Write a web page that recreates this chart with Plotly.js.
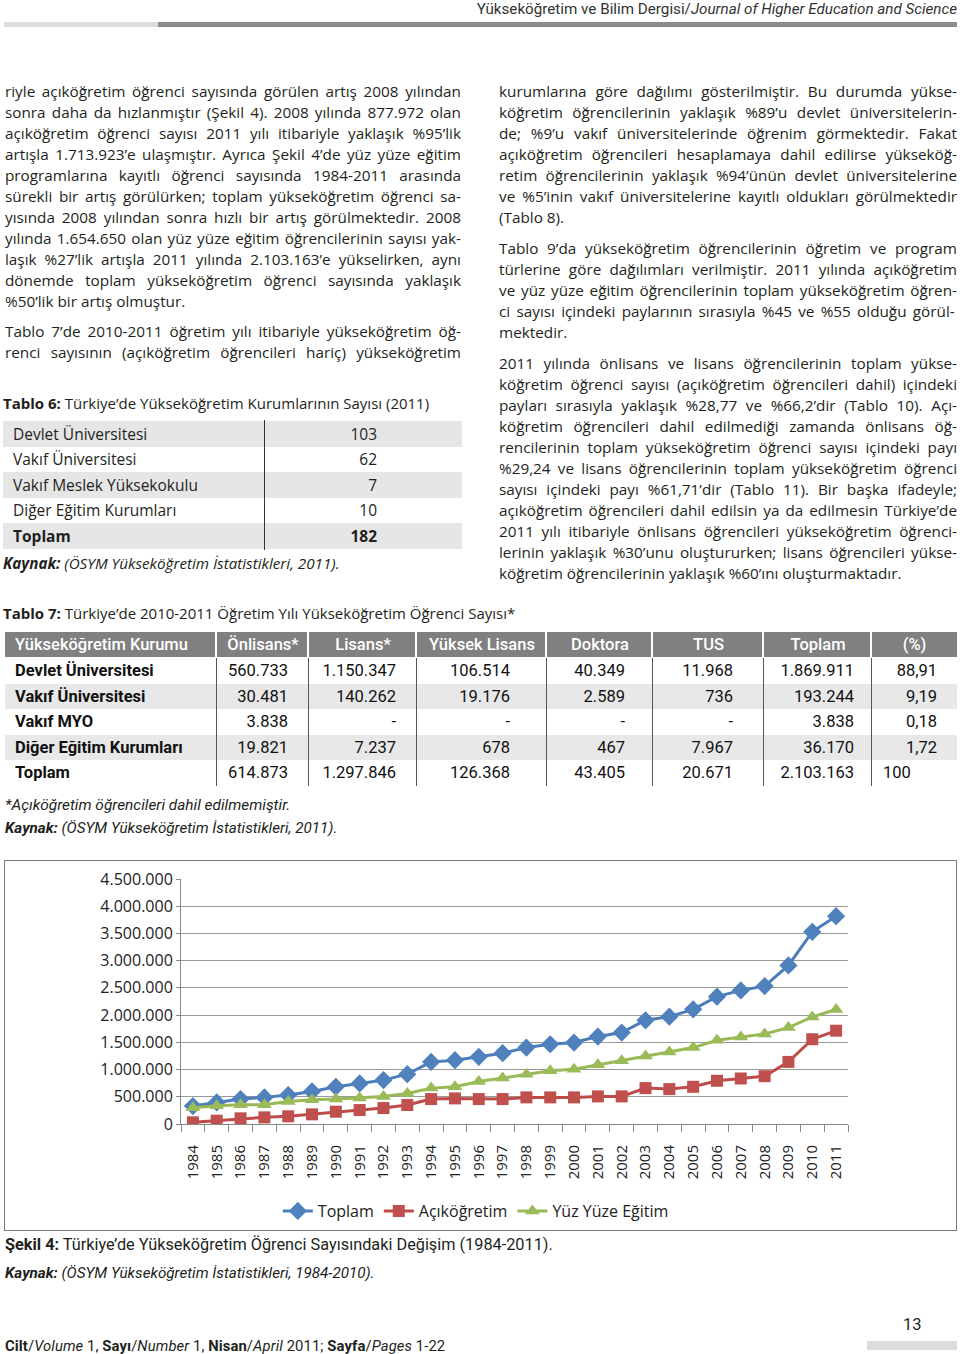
<!DOCTYPE html>
<html><head><meta charset="utf-8">
<script src="https://cdn.plot.ly/plotly-3.0.1.min.js"></script>
<style>
body{margin:0;background:#fff;}
#page{position:relative;width:960px;height:1354px;overflow:hidden;font-family:"Open Sans",sans-serif;color:#231f20;background:#fff;}
.abs{position:absolute;white-space:nowrap;}
.ln{position:absolute;height:21px;line-height:21px;font-size:15.3px;white-space:nowrap;}
.cond{font-family:Roboto,"Open Sans",sans-serif;}
.bar{position:absolute;}
</style></head>
<body><div id="page"></div>
<script>
// ---------- chart data ----------
const years = ['1984','1985','1986','1987','1988','1989','1990','1991','1992','1993','1994','1995','1996','1997','1998','1999','2000','2001','2002','2003','2004','2005','2006','2007','2008','2009','2010','2011'];
const toplam = [330000,397000,458000,489000,531000,598000,683000,745000,806000,916000,1141000,1172000,1233000,1300000,1404000,1465000,1496000,1606000,1679000,1905000,1972000,2106000,2339000,2454000,2532622,2912000,3529000,3817086];
const acikogretim = [31000,61000,104000,122000,141000,177000,226000,256000,293000,348000,458000,470000,458000,458000,489000,489000,489000,507000,507000,659000,641000,683000,794000,836000,877972,1141000,1557000,1713923];
const yuzYuze = [300000,335000,354000,354000,415000,446000,458000,476000,507000,562000,659000,683000,782000,843000,916000,977000,1007000,1086000,1160000,1251000,1324000,1404000,1538000,1599000,1654650,1771000,1966000,2103163];
const seriesNames = ['Toplam','Açıköğretim','Yüz Yüze Eğitim'];

// ---------- table data ----------
const t6Labels = ['Devlet Üniversitesi','Vakıf Üniversitesi','Vakıf Meslek Yüksekokulu','Diğer Eğitim Kurumları','Toplam'];
const t6Values = ['103','62','7','10','182'];
const t7Header = ['Yükseköğretim Kurumu','Önlisans*','Lisans*','Yüksek Lisans','Doktora','TUS','Toplam','(%)'];
const t7Rows = [
 ['Devlet Üniversitesi','560.733','1.150.347','106.514','40.349','11.968','1.869.911','88,91'],
 ['Vakıf Üniversitesi','30.481','140.262','19.176','2.589','736','193.244','9,19'],
 ['Vakıf MYO','3.838','-','-','-','-','3.838','0,18'],
 ['Diğer Eğitim Kurumları','19.821','7.237','678','467','7.967','36.170','1,72'],
 ['Toplam','614.873','1.297.846','126.368','43.405','20.671','2.103.163','100']
];

// ---------- text ----------
const leftP1 = [
 'riyle açıköğretim öğrenci sayısında görülen artış 2008 yılından',
 'sonra daha da hızlanmıştır (Şekil 4). 2008 yılında 877.972 olan',
 'açıköğretim öğrenci sayısı 2011 yılı itibariyle yaklaşık %95’lik',
 'artışla 1.713.923’e ulaşmıştır. Ayrıca Şekil 4’de yüz yüze eğitim',
 'programlarına kayıtlı öğrenci sayısında 1984-2011 arasında',
 'sürekli bir artış görülürken; toplam yükseköğretim öğrenci sa-',
 'yısında 2008 yılından sonra hızlı bir artış görülmektedir. 2008',
 'yılında 1.654.650 olan yüz yüze eğitim öğrencilerinin sayısı yak-',
 'laşık %27’lik artışla 2011 yılında 2.103.163’e yükselirken, aynı',
 'dönemde toplam yükseköğretim öğrenci sayısında yaklaşık',
 '%50’lik bir artış olmuştur.'];
const leftP2 = [
 'Tablo 7’de 2010-2011 öğretim yılı itibariyle yükseköğretim öğ-',
 'renci sayısının (açıköğretim öğrencileri hariç) yükseköğretim'];
const rightP1 = [
 'kurumlarına göre dağılımı gösterilmiştir. Bu durumda yükse-',
 'köğretim öğrencilerinin yaklaşık %89’u devlet üniversitelerin-',
 'de; %9’u vakıf üniversitelerinde öğrenim görmektedir. Fakat',
 'açıköğretim öğrencileri hesaplamaya dahil edilirse yükseköğ-',
 'retim öğrencilerinin yaklaşık %94’ünün devlet üniversitelerine',
 've %5’inin vakıf üniversitelerine kayıtlı oldukları görülmektedir',
 '(Tablo 8).'];
const rightP2 = [
 'Tablo 9’da yükseköğretim öğrencilerinin öğretim ve program',
 'türlerine göre dağılımları verilmiştir. 2011 yılında açıköğretim',
 've yüz yüze eğitim öğrencilerinin toplam yükseköğretim öğren-',
 'ci sayısı içindeki paylarının sırasıyla  %45 ve %55 olduğu görül-',
 'mektedir.'];
const rightP3 = [
 '2011 yılında önlisans ve lisans öğrencilerinin toplam yükse-',
 'köğretim öğrenci sayısı (açıköğretim öğrencileri dahil) içindeki',
 'payları sırasıyla yaklaşık %28,77 ve %66,2’dir (Tablo 10). Açı-',
 'köğretim öğrencileri dahil edilmediği zamanda önlisans öğ-',
 'rencilerinin toplam yükseköğretim öğrenci sayısı içindeki payı',
 '%29,24 ve lisans öğrencilerinin toplam yükseköğretim öğrenci',
 'sayısı içindeki payı %61,71’dir (Tablo 11). Bir başka ifadeyle;',
 'açıköğretim öğrencileri dahil edilsin ya da edilmesin Türkiye’de',
 '2011 yılı itibariyle önlisans öğrencileri yükseköğretim öğrenci-',
 'lerinin yaklaşık %30’unu oluştururken; lisans öğrencileri yükse-',
 'köğretim öğrencilerinin yaklaşık %60’ını oluşturmaktadır.'];

const page = document.getElementById('page');
function el(tag, css, html, cls){const e=document.createElement(tag); if(cls) e.className=cls; e.style.cssText=css; if(html!=null) e.innerHTML=html; page.appendChild(e); return e;}

const justifyQueue=[];
function para(lines, x, y0, width, lastJustified){
  lines.forEach((t,i)=>{
    const d = el('div', `left:${x}px;top:${y0-10.5+21*i}px;width:${width}px;`, null, 'ln');
    const s = document.createElement('span'); s.textContent=t; d.appendChild(s);
    justifyQueue.push({s, width, last: i===lines.length-1 && !lastJustified});
  });
}
para(leftP1, 5, 91, 456);
para(leftP2, 5, 331, 456, true);
para(rightP1, 499, 91, 458);
para(rightP2, 499, 248, 458);
para(rightP3, 499, 363, 458);

// header
el('div','right:3px;top:0px;font-size:15.2px;line-height:18px;color:#333;','Yükseköğretim ve Bilim Dergisi/<i>Journal of Higher Education and Science</i>','abs cond');
el('div','left:4px;top:22px;width:154px;height:5px;background:#dcdcdc;',null,'bar');
el('div','left:158px;top:22px;width:799px;height:5px;background:#8c8c8c;',null,'bar');

// table 6
el('div','left:3px;top:393px;font-size:15px;line-height:20px;','<b>Tablo 6:</b> Türkiye’de Yükseköğretim Kurumlarının Sayısı (2011)','abs');
const t6Top=[421,447,472,498,523];
t6Labels.forEach((lab,i)=>{
  const h = (i<4? t6Top[i+1]:549)-t6Top[i];
  if(i%2===0) el('div',`left:3px;top:${t6Top[i]}px;width:459px;height:${h}px;background:#e6e6e6;`,null,'bar');
  const w = i===4?'font-weight:700;':'';
  el('div',`left:13px;top:${t6Top[i]}px;height:${h}px;line-height:${h}px;font-size:15.5px;${w}`,lab,'abs');
  el('div',`left:280px;width:97px;text-align:right;top:${t6Top[i]}px;height:${h}px;line-height:${h}px;font-size:15.5px;${w}`,t6Values[i],'abs');
});
el('div','left:263.5px;top:420px;width:1px;height:130px;background:#333;',null,'bar');
el('div','left:3px;top:553px;font-size:15.2px;line-height:20px;font-style:italic;','<b>Kaynak:</b> (ÖSYM Yükseköğretim İstatistikleri, 2011).','abs');

// table 7
el('div','left:3px;top:603px;font-size:15px;line-height:20px;','<b>Tablo 7:</b> Türkiye’de 2010-2011 Öğretim Yılı Yükseköğretim Öğrenci Sayısı*','abs');
const colX=[5,217,309,417,547,653,764,872,957];
const padR=[0,21,21,37,28,31,18,20];
const rowTop=[632,658,684,709,735,760,786];
for(let c=0;c<8;c++){
  el('div',`left:${colX[c]}px;top:632px;width:${colX[c+1]-colX[c]-(c<7?2:0)}px;height:25px;background:#808080;`,null,'bar');
  const al = c===0?`left:${colX[c]+10}px;`:`left:${colX[c]}px;width:${colX[c+1]-colX[c]}px;text-align:center;`;
  el('div',`${al}top:632px;height:25px;line-height:25px;font-size:16.5px;color:#fff;font-weight:500;`,t7Header[c],'abs cond');
}
t7Rows.forEach((r,i)=>{
  const top=rowTop[i+1], h=rowTop[i+2]-rowTop[i+1];
  if(i%2===1) el('div',`left:5px;top:${top}px;width:952px;height:${h}px;background:#e8e8e8;`,null,'bar');
  for(let c=0;c<8;c++){
    let css;
    if(c===0) css=`left:${colX[0]+10}px;font-weight:700;`;
    else if(c===7 && i===4) css=`left:${colX[7]+11}px;`;
    else css=`left:${colX[c]}px;width:${colX[c+1]-colX[c]-padR[c]}px;text-align:right;`;
    el('div',`${css}top:${top}px;height:${h}px;line-height:${h}px;font-size:16.5px;color:#111;`,r[c],'abs cond');
  }
});
for(let c=1;c<8;c++) el('div',`left:${colX[c]-1}px;top:658px;width:1px;height:128px;background:#555;`,null,'bar');
el('div','left:5px;top:795px;font-size:15.4px;line-height:20px;font-style:italic;','*Açıköğretim öğrencileri dahil edilmemiştir.','abs cond');
el('div','left:5px;top:818px;font-size:15.2px;line-height:20px;font-style:italic;','<b>Kaynak:</b> (ÖSYM Yükseköğretim İstatistikleri, 2011).','abs cond');

// chart frame
el('div','left:4px;top:860px;width:953px;height:371px;box-sizing:border-box;border:1.5px solid #7a7a7a;',null,'bar');
const chartDiv = el('div','left:5px;top:861px;width:951px;height:368px;',null,'abs');

// captions
el('div','left:5px;top:1235px;font-size:16.3px;line-height:20px;','<b>Şekil 4:</b> Türkiye’de Yükseköğretim Öğrenci Sayısındaki Değişim (1984-2011).','abs cond');
el('div','left:5px;top:1263px;font-size:15.2px;line-height:20px;font-style:italic;','<b>Kaynak:</b> (ÖSYM Yükseköğretim İstatistikleri, 1984-2010).','abs cond');

// footer
el('div','left:903px;top:1314px;font-size:16.5px;line-height:22px;','13','abs cond');
el('div','left:867px;top:1341px;width:90px;height:9px;background:#dcdcdc;',null,'bar');
el('div','left:5px;top:1337px;font-size:14.8px;line-height:18px;letter-spacing:0.1px;','<b>Cilt</b>/<i>Volume</i> 1, <b>Sayı</b>/<i>Number</i> 1, <b>Nisan</b>/<i>April</i> 2011; <b>Sayfa</b>/<i>Pages</i> 1-22','abs cond');

// ---------- chart ----------
const styles = [
 {y: toplam, line:'#4A7EBB', mk:'#4F81BD', sym:'diamond', size:14},
 {y: acikogretim, line:'#BE4B48', mk:'#C0504D', sym:'square', size:12},
 {y: yuzYuze, line:'#98B954', mk:'#9BBB59', sym:'triangle-up', size:13}
];
const traces = styles.map((s,i)=>({
  type:'scatter', mode:'lines+markers', name: seriesNames[i], x: years, y: s.y,
  line:{color:s.line, width:3}, marker:{color:s.mk, symbol:s.sym, size:s.size, line:{width:0}}
}));
const layout = {
  width:951, height:368,
  margin:{l:176, r:108, t:18, b:105, autoexpand:false},
  paper_bgcolor:'rgba(0,0,0,0)', plot_bgcolor:'rgba(0,0,0,0)',
  separators:',.',
  font:{family:'"Open Sans", sans-serif', color:'#222', size:16},
  showlegend:true,
  legend:{orientation:'h', x:0.442, xanchor:'center', y:-0.355, yanchor:'middle', font:{size:16}, bgcolor:'rgba(0,0,0,0)'},
  xaxis:{type:'category', range:[-0.5,27.5], tickangle:-90, tickson:'boundaries', ticks:'outside', ticklen:7, tickcolor:'#888',
         showline:true, linecolor:'#888', linewidth:1, showgrid:false, tickfont:{size:15}, ticklabelstandoff:14, automargin:false},
  yaxis:{range:[0,4500000], dtick:500000, tickformat:',d', showgrid:true, gridcolor:'#999', gridwidth:1, zeroline:false,
         showline:true, linecolor:'#888', linewidth:1, ticks:'outside', ticklen:4, tickcolor:'#888', tickfont:{size:16}, automargin:false}
};
Plotly.newPlot(chartDiv, traces, layout, {staticPlot:true, displayModeBar:false});

// justify lines
function doJustify(){
  justifyQueue.forEach(q=>{
    const s=q.s; s.style.wordSpacing='0px'; s.style.letterSpacing='0px';
    const w=s.getBoundingClientRect().width;
    const spaces=(s.textContent.match(/ /g)||[]).length;
    if(q.last){
      if(w>q.width) s.style.letterSpacing=((q.width-w)/s.textContent.length)+'px';
      return;
    }
    let ws=(q.width-w)/Math.max(spaces,1);
    if(ws<-1.5){
      const ls=(q.width-w+1.5*spaces)/s.textContent.length;
      s.style.letterSpacing=ls+'px'; ws=-1.5;
    }
    s.style.wordSpacing=ws+'px';
  });
}
doJustify();
if(document.fonts && document.fonts.ready) document.fonts.ready.then(doJustify);
</script>
</body></html>
